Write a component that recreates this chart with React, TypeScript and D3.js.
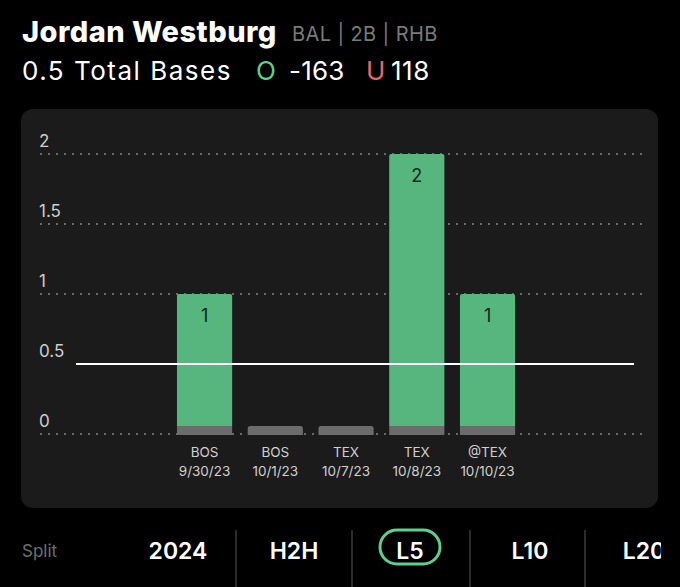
import React from "react";
import * as d3 from "d3";

const categories = ["BOS|9/30/23", "BOS|10/1/23", "TEX|10/7/23", "TEX|10/8/23", "@TEX|10/10/23"];
const values = [1, 0, 0, 2, 1];
const yTicks = [0, 0.5, 1, 1.5, 2];
const line = 0.5;
const splits = ["2024", "H2H", "L5", "L10", "L20"];
const splitX = [178, 294, 410, 530, 644];
const sepX = [236, 352, 470, 585];

const W = 680, H = 587;
const FONT = "Inter, 'Noto Sans', sans-serif";

export default function App() {
  const y = d3.scaleLinear().domain([0, 2]).range([434, 154]);
  const x = d3.scaleBand<string>().domain(categories).range([161.4, 530.7]).paddingInner(0.22).paddingOuter(0.22);
  const bw = x.bandwidth();
  const green = "#56b67e";
  const grey = "#6c6c6c";
  return (
    <svg width={W} height={H} style={{ position: "absolute", left: 0, top: 0, background: "#000" }} fontFamily={FONT}>
      <rect x={0} y={0} width={W} height={H} fill="#000" />
      <text x={22} y={42} fill="#fff" fontSize={29} fontWeight={800} letterSpacing={0.45}>Jordan Westburg</text>
      <text x={292} y={41} fill="#7a7a7a" fontSize={20} letterSpacing={0.4}>BAL | 2B | RHB</text>
      <text x={22} y={80} fill="#fff" fontSize={26} letterSpacing={1.5}>0.5 Total Bases</text>
      <text x={256} y={80} fill="#5fcf8e" fontSize={26}>O</text>
      <text x={289} y={80} fill="#fff" fontSize={26} letterSpacing={0.2}>-163</text>
      <text x={366} y={80} fill="#e46a6a" fontSize={26}>U</text>
      <text x={391} y={80} fill="#fff" fontSize={26} letterSpacing={0.5}>118</text>

      <rect x={21} y={109} width={637} height={399} rx={12} fill="#1b1b1b" />
      {yTicks.map((t) => (
        <g key={t}>
          {t !== line && (
            <line x1={40} x2={646} y1={y(t)} y2={y(t)} stroke="#6a6a6a" strokeWidth={2} strokeDasharray="2 6" />
          )}
          <text x={39} y={y(t) - 7} fill="#cfcfcf" fontSize={17}>{String(t)}</text>
        </g>
      ))}
      {categories.map((c, i) => {
        const v = values[i];
        const bx = x(c)!;
        const top = y(v);
        const [team, date] = c.split("|");
        return (
          <g key={c}>
            {v > 0 && (
              <path
                d={`M${bx},426 V${top + 2} Q${bx},${top} ${bx + 2},${top} H${bx + bw - 2} Q${bx + bw},${top} ${bx + bw},${top + 2} V426 Z`}
                fill={green}
              />
            )}
            <path
              d={v > 0
                ? `M${bx},426 H${bx + bw} V435 H${bx} Z`
                : `M${bx},428.5 Q${bx},426 ${bx + 2.5},426 H${bx + bw - 2.5} Q${bx + bw},426 ${bx + bw},428.5 V435 H${bx} Z`}
              fill={grey}
            />
            {v > 0 && (
              <text x={bx + bw / 2} y={top + 28} textAnchor="middle" fill="#15261c" fontSize={18}>{String(v)}</text>
            )}
            <text x={bx + bw / 2} y={457} textAnchor="middle" fill="#d0d0d0" fontSize={13.5}>{team}</text>
            <text x={bx + bw / 2} y={476} textAnchor="middle" fill="#d0d0d0" fontSize={13.5}>{date}</text>
          </g>
        );
      })}
      <line x1={76} x2={634} y1={y(line)} y2={y(line)} stroke="#fff" strokeWidth={2} />

      <text x={22} y={557} fill="#6f6f6f" fontSize={17}>Split</text>
      {sepX.map((sx) => (
        <line key={sx} x1={sx} x2={sx} y1={530} y2={587} stroke="#3a3a3a" strokeWidth={1.5} />
      ))}
      <defs>
        <clipPath id="clipR"><rect x={0} y={0} width={661} height={H} /></clipPath>
      </defs>
      <rect x={380} y={530} width={60} height={34} rx={17} fill="none" stroke="#5fcf8e" strokeWidth={3} />
      <g clipPath="url(#clipR)">
        {splits.map((s, i) => (
          <text key={s} x={splitX[i]} y={559} textAnchor="middle" fill="#fff" fontSize={23} fontWeight={600}>{s}</text>
        ))}
      </g>
    </svg>
  );
}
